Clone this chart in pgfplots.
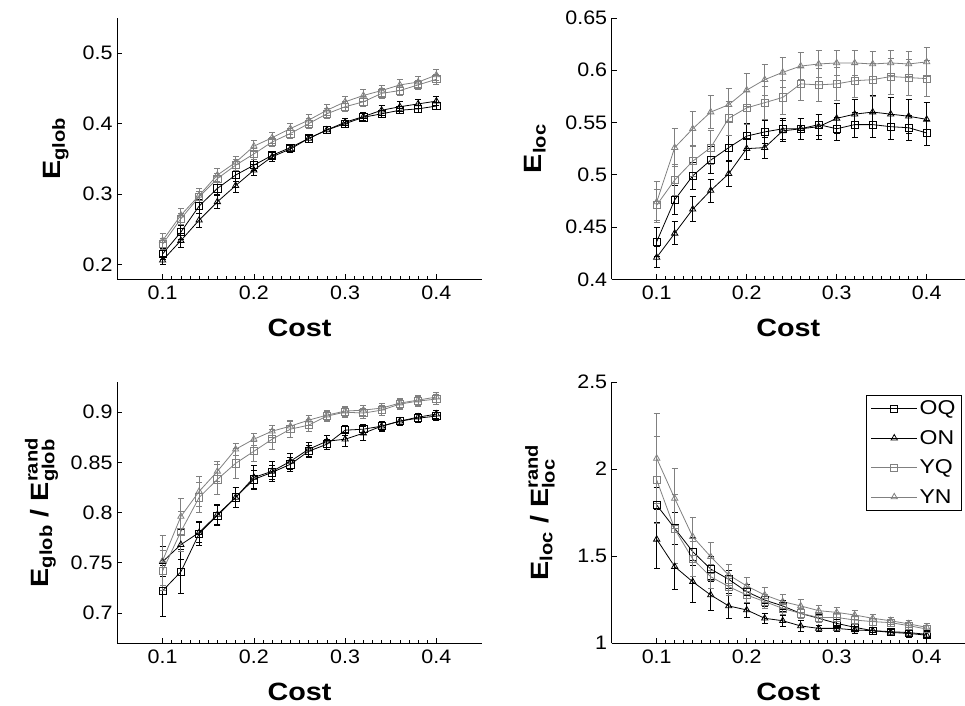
\documentclass[border=0pt]{standalone}
\usepackage{fontspec}
\setmainfont{Liberation Sans}
\newfontfamily\widefont[FakeStretch=1.15]{Liberation Sans}
\newfontfamily\tickfont[FakeStretch=1.1]{Liberation Sans}
\usepackage{amsmath}
\usepackage{pgfplots}
\usepackage{pgfplotstable}
\pgfplotsset{compat=1.18}

\definecolor{mgray}{gray}{0.5}

% Global efficiency
\pgfplotstableread{
x    oq     oqe    on     one    yq     yqe    yn     yne
0.10 0.215  0.008  0.206  0.006  0.229  0.008  0.234  0.010
0.12 0.246  0.010  0.234  0.010  0.265  0.008  0.270  0.010
0.14 0.283  0.010  0.263  0.010  0.296  0.008  0.298  0.010
0.16 0.308  0.009  0.289  0.009  0.322  0.008  0.327  0.009
0.18 0.327  0.009  0.312  0.010  0.341  0.008  0.345  0.009
0.20 0.341  0.008  0.334  0.008  0.357  0.008  0.368  0.008
0.22 0.355  0.006  0.353  0.006  0.374  0.007  0.380  0.008
0.24 0.366  0.005  0.364  0.005  0.386  0.007  0.393  0.008
0.26 0.379  0.005  0.379  0.005  0.400  0.007  0.405  0.008
0.28 0.391  0.005  0.391  0.005  0.414  0.007  0.419  0.008
0.30 0.400  0.005  0.402  0.005  0.424  0.007  0.431  0.008
0.32 0.409  0.005  0.410  0.006  0.431  0.007  0.440  0.008
0.34 0.414  0.005  0.419  0.007  0.443  0.007  0.447  0.008
0.36 0.419  0.005  0.424  0.007  0.447  0.007  0.455  0.008
0.38 0.421  0.005  0.428  0.006  0.455  0.007  0.459  0.008
0.40 0.425  0.005  0.432  0.006  0.463  0.007  0.469  0.008
}\tglob

% Local efficiency
\pgfplotstableread{
x    oq     oqe    on     one    yq     yqe    yn     yne
0.10 0.436  0.014  0.421  0.010  0.471  0.015  0.474  0.020
0.12 0.476  0.014  0.444  0.011  0.495  0.015  0.526  0.018
0.14 0.499  0.013  0.467  0.012  0.513  0.015  0.544  0.017
0.16 0.514  0.013  0.485  0.011  0.526  0.016  0.560  0.016
0.18 0.526  0.012  0.501  0.012  0.554  0.016  0.567  0.016
0.20 0.537  0.012  0.525  0.010  0.564  0.016  0.581  0.016
0.22 0.541  0.011  0.526  0.010  0.569  0.016  0.591  0.015
0.24 0.544  0.010  0.542  0.010  0.574  0.016  0.598  0.014
0.26 0.544  0.010  0.544  0.010  0.587  0.016  0.604  0.013
0.28 0.548  0.010  0.546  0.012  0.586  0.016  0.606  0.013
0.30 0.544  0.011  0.554  0.014  0.587  0.016  0.607  0.012
0.32 0.548  0.012  0.558  0.014  0.590  0.016  0.607  0.012
0.34 0.548  0.012  0.560  0.016  0.591  0.016  0.606  0.012
0.36 0.546  0.012  0.558  0.016  0.594  0.017  0.607  0.012
0.38 0.545  0.012  0.556  0.016  0.593  0.017  0.606  0.012
0.40 0.540  0.012  0.553  0.016  0.592  0.017  0.608  0.014
}\tloc

% Normalised global efficiency
\pgfplotstableread{
x    oq     oqe    on     one    yq     yqe    yn     yne
0.10 0.722  0.025  0.751  0.015  0.742  0.020  0.752  0.025
0.12 0.741  0.022  0.768  0.015  0.781  0.020  0.796  0.018
0.14 0.779  0.012  0.780  0.010  0.815  0.015  0.821  0.015
0.16 0.797  0.010  0.798  0.010  0.833  0.015  0.841  0.010
0.18 0.815  0.010  0.815  0.010  0.849  0.015  0.863  0.006
0.20 0.833  0.009  0.835  0.012  0.861  0.010  0.873  0.006
0.22 0.840  0.007  0.841  0.010  0.873  0.010  0.881  0.006
0.24 0.848  0.007  0.851  0.008  0.883  0.008  0.886  0.006
0.26 0.861  0.006  0.863  0.007  0.887  0.006  0.892  0.005
0.28 0.868  0.005  0.871  0.006  0.896  0.005  0.897  0.005
0.30 0.882  0.005  0.873  0.007  0.900  0.005  0.901  0.005
0.32 0.883  0.005  0.879  0.007  0.899  0.005  0.902  0.005
0.34 0.886  0.004  0.886  0.005  0.902  0.005  0.904  0.005
0.36 0.891  0.004  0.891  0.004  0.908  0.005  0.909  0.005
0.38 0.894  0.004  0.895  0.004  0.911  0.005  0.912  0.005
0.40 0.896  0.004  0.898  0.004  0.913  0.005  0.915  0.005
}\tglobr

% Normalised local efficiency
\pgfplotstableread{
x    oq     oqe    on     one    yq     yqe    yn     yne
0.10 1.793  0.100  1.596  0.170  1.937  0.250  2.061  0.260
0.12 1.659  0.090  1.439  0.130  1.655  0.200  1.831  0.170
0.14 1.525  0.080  1.352  0.120  1.483  0.100  1.611  0.110
0.16 1.425  0.070  1.276  0.090  1.381  0.070  1.496  0.080
0.18 1.366  0.050  1.213  0.070  1.324  0.050  1.391  0.060
0.20 1.295  0.040  1.190  0.040  1.276  0.045  1.328  0.050
0.22 1.247  0.035  1.142  0.030  1.238  0.040  1.276  0.045
0.24 1.213  0.030  1.128  0.030  1.199  0.035  1.238  0.040
0.26 1.170  0.030  1.098  0.030  1.170  0.030  1.213  0.035
0.28 1.142  0.025  1.084  0.020  1.147  0.030  1.186  0.030
0.30 1.113  0.020  1.084  0.020  1.147  0.025  1.176  0.030
0.32 1.090  0.020  1.075  0.020  1.132  0.025  1.161  0.025
0.34 1.071  0.020  1.071  0.020  1.123  0.020  1.142  0.020
0.36 1.065  0.020  1.061  0.020  1.117  0.020  1.128  0.020
0.38 1.060  0.020  1.055  0.020  1.100  0.020  1.110  0.020
0.40 1.050  0.020  1.045  0.020  1.080  0.020  1.090  0.020
}\tlocr

\pgfplotsset{
  panel/.style={
    scale only axis,
    xmin=0.05,
    xtick={0.1,0.2,0.3,0.4},
    minor x tick num=9,
    axis x line*=bottom,
    axis y line*=left,
    axis line style={-, line width=0.8pt},
    tick align=inside,
    major tick length=5pt,
    minor tick length=3pt,
    tick style={black, line width=0.7pt},
    /pgf/number format/assume math mode=true,
    ticklabel style={font=\tickfont\fontsize{19.5}{21}\selectfont},
    xticklabel style={yshift=-3pt},
    yticklabel style={xshift=-1pt},
    label style={font=\widefont\fontsize{25}{27}\selectfont\bfseries},
    xlabel={Cost},
    xlabel style={at={(axis description cs:0.5,0)}, anchor=base, yshift=-57.5pt},
    every axis plot/.append style={line width=0.8pt,
      legend image code/.code={%
        \draw[mark repeat=2, mark phase=2] plot coordinates {(0pt,0pt) (23pt,0pt) (46pt,0pt)};}},
    error bars/y dir=both,
    error bars/y explicit,
    error bars/error bar style={line width=0.8pt},
    error bars/error mark options={rotate=90, mark size=3pt, line width=0.8pt},
  },
  ylab/.style={ylabel style={at={(axis description cs:0,0.5)}, anchor=center, yshift=#1}},
  sq/.style={mark=square, mark size=3.6pt, mark options={solid}},
  tri/.style={mark=triangle, mark size=3.6pt, mark options={solid}},
}

\newcommand{\fourseries}[1]{%
  \addplot[black, sq] table[x=x, y=oq, y error=oqe] {#1};
  \addplot[black, tri] table[x=x, y=on, y error=one] {#1};
  \addplot[mgray, sq] table[x=x, y=yq, y error=yqe] {#1};
  \addplot[mgray, tri] table[x=x, y=yn, y error=yne] {#1};
}

\begin{document}
\begin{tikzpicture}
\useasboundingbox (0pt,0pt) rectangle (965pt,705pt);

% top left: global efficiency
\begin{axis}[panel,
  at={(117pt,425.7pt)}, anchor=south west,
  width=365pt, height=261.3pt,
  xmax=0.45, ymin=0.179, ymax=0.55,
  ytick={0.2,0.3,0.4,0.5},
  ylab=61pt,
  ylabel={$\textbf{E}_{\textbf{glob}}$}]
\fourseries{\tglob}
\end{axis}

% top right: local efficiency
\begin{axis}[panel,
  at={(611.7pt,425.7pt)}, anchor=south west,
  width=353.3pt, height=261.3pt,
  xmax=0.4426, ymin=0.4, ymax=0.65,
  ytick={0.4,0.45,0.5,0.55,0.6,0.65},
  yticklabel style={/pgf/number format/fixed, /pgf/number format/precision=2},
  ylab=76.7pt,
  ylabel={$\textbf{E}_{\textbf{loc}}$}]
\fourseries{\tloc}
\end{axis}

% bottom left: normalised global efficiency
\begin{axis}[panel,
  at={(117pt,62pt)}, anchor=south west,
  width=365pt, height=261pt,
  xmax=0.45, ymin=0.67, ymax=0.93,
  ytick={0.7,0.75,0.8,0.85,0.9},
  yticklabel style={/pgf/number format/fixed, /pgf/number format/precision=2},
  ylab=75.5pt,
  ylabel={$\textbf{E}_{\textbf{glob}}\textbf{ / }\textbf{E}_{\textbf{glob}}^{\textbf{rand}}$}]
\fourseries{\tglobr}
\end{axis}

% bottom right: normalised local efficiency
\begin{axis}[panel,
  at={(611.7pt,62pt)}, anchor=south west,
  width=353.3pt, height=261pt,
  xmax=0.4426, ymin=1, ymax=2.5,
  ytick={1,1.5,2,2.5},
  ylab=71.7pt,
  ylabel={$\textbf{E}_{\textbf{loc}}\textbf{ / }\textbf{E}_{\textbf{loc}}^{\textbf{rand}}$},
  legend style={at={(0.991,0.952)}, anchor=north east, draw=black,
    line width=0.8pt, font=\widefont\fontsize{20}{22}\selectfont,
    row sep=10pt, inner sep=4pt, cells={anchor=west}}]
\fourseries{\tlocr}
\legend{OQ, ON, YQ, YN}
\end{axis}
\end{tikzpicture}
\end{document}
